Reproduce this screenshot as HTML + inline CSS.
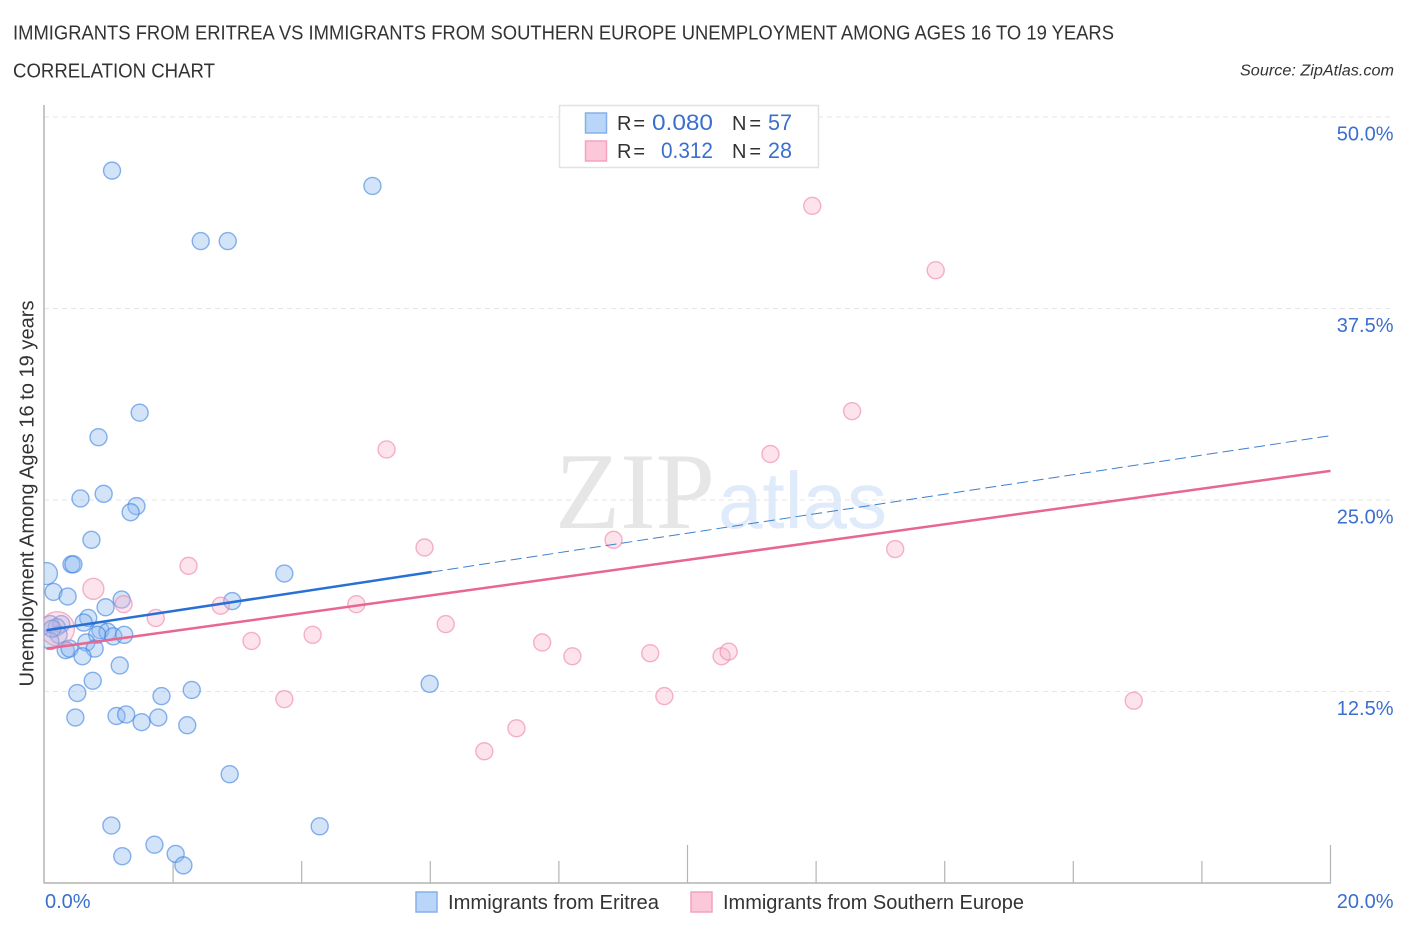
<!DOCTYPE html>
<html>
<head>
<meta charset="utf-8">
<style>
html,body{margin:0;padding:0;background:#fff;width:1406px;height:930px;overflow:hidden}
svg{display:block}
text{font-family:"Liberation Sans",sans-serif}
</style>
</head>
<body>
<svg id="chart" width="1406" height="930" viewBox="0 0 1406 930" xmlns="http://www.w3.org/2000/svg">
  <rect width="1406" height="930" fill="#fff"/>
  <text x="13" y="39.5" font-size="20" fill="#333" textLength="1101" lengthAdjust="spacingAndGlyphs">IMMIGRANTS FROM ERITREA VS IMMIGRANTS FROM SOUTHERN EUROPE UNEMPLOYMENT AMONG AGES 16 TO 19 YEARS</text>
  <text x="13" y="77.5" font-size="20" fill="#333" textLength="202" lengthAdjust="spacingAndGlyphs">CORRELATION CHART</text>
  <text x="1394" y="75.5" font-size="15.5" font-style="italic" fill="#333" text-anchor="end" textLength="154" lengthAdjust="spacingAndGlyphs">Source: ZipAtlas.com</text>

  <g>
    <text x="555" y="528" font-size="109" fill="#e6e6e6" textLength="160" lengthAdjust="spacingAndGlyphs" style="font-family:'Liberation Serif',serif">ZIP</text>
    <text x="718" y="528" font-size="80" fill="#dfeafa" textLength="169" lengthAdjust="spacingAndGlyphs" style="font-family:'Liberation Sans',sans-serif">atlas</text>
  </g>

  <g id="grid"></g>
  <g id="axes"></g>
  <defs>
    <clipPath id="plot-clip"><rect x="44" y="100" width="1300" height="783"/></clipPath>
  </defs>
  <g id="points-blue" clip-path="url(#plot-clip)"></g>
  <g id="points-pink" clip-path="url(#plot-clip)"></g>
  <g id="lines"></g>
  <g id="labels"></g>

  <text transform="translate(33.5,493.5) rotate(-90)" font-size="20" fill="#333" text-anchor="middle" textLength="386" lengthAdjust="spacingAndGlyphs">Unemployment Among Ages 16 to 19 years</text>

  <g>
    <rect x="559.5" y="105.5" width="259" height="62" fill="#fff" stroke="#e2e2e2" stroke-width="1.5"/>
    <rect x="585.5" y="113" width="21" height="20" fill="#b9d5f8" stroke="#86b0ea" stroke-width="1.5"/>
    <rect x="585.5" y="141" width="21" height="20" fill="#fcc8d9" stroke="#f3a3bd" stroke-width="1.5"/>
    <text x="617" y="130" font-size="20" fill="#333" textLength="28" lengthAdjust="spacing">R =</text>
    <text x="652" y="130" font-size="22" fill="#3a6fcf" textLength="61" lengthAdjust="spacingAndGlyphs">0.080</text>
    <text x="732" y="130" font-size="20" fill="#333" textLength="29" lengthAdjust="spacing">N =</text>
    <text x="768" y="130" font-size="22" fill="#3a6fcf" textLength="24" lengthAdjust="spacingAndGlyphs">57</text>
    <text x="617" y="158" font-size="20" fill="#333" textLength="28" lengthAdjust="spacing">R =</text>
    <text x="661" y="158" font-size="22" fill="#3a6fcf" textLength="52" lengthAdjust="spacingAndGlyphs">0.312</text>
    <text x="732" y="158" font-size="20" fill="#333" textLength="29" lengthAdjust="spacing">N =</text>
    <text x="768" y="158" font-size="22" fill="#3a6fcf" textLength="24" lengthAdjust="spacingAndGlyphs">28</text>
  </g>

  <g>
    <rect x="416" y="892" width="21" height="20" fill="#b9d5f8" stroke="#86b0ea" stroke-width="1.5"/>
    <text x="448" y="909" font-size="20" fill="#333" textLength="211" lengthAdjust="spacingAndGlyphs">Immigrants from Eritrea</text>
    <rect x="691" y="892" width="21" height="20" fill="#fcc8d9" stroke="#f3a3bd" stroke-width="1.5"/>
    <text x="723" y="909" font-size="20" fill="#333" textLength="301" lengthAdjust="spacingAndGlyphs">Immigrants from Southern Europe</text>
  </g>
</svg>
<script>
var yTickValues = [12.5, 25, 37.5, 50];
var yTickLabels = ["12.5%", "25.0%", "37.5%", "50.0%"];
var xTickValues = [0, 2, 4, 6, 8, 10, 12, 14, 16, 18, 20];
var xMajorTicks = [10, 20];
var xEndLabels = ["0.0%", "20.0%"];

var eritreaX = [1.05,5.10,2.43,2.85,1.48,0.84,0.92,0.56,1.43,1.34,0.73,0.42,0.45,0.03,3.73,0.14,0.36,1.20,2.92,0.95,0.68,0.61,0.09,0.26,0.19,0.22,0.87,0.98,0.82,1.07,1.24,0.65,0.78,0.33,0.39,0.09,0.59,1.17,0.75,5.99,0.51,1.82,2.29,0.48,1.12,1.27,1.51,1.77,2.22,2.88,1.04,4.28,1.71,1.21,2.04,2.16,0.12];
var eritreaY = [46.5,45.5,41.9,41.9,30.7,29.1,25.4,25.1,24.6,24.2,22.4,20.8,20.8,20.2,20.2,19.0,18.7,18.5,18.4,18.0,17.3,17.0,16.9,16.9,16.7,16.2,16.5,16.4,16.2,16.1,16.2,15.7,15.3,15.2,15.3,15.8,14.8,14.2,13.2,13.0,12.4,12.2,12.6,10.8,10.9,11.0,10.5,10.8,10.3,7.1,3.75,3.7,2.5,1.75,1.9,1.15,16.6];
var eritreaR = [8.5,8.5,8.5,8.5,8.5,8.5,8.5,8.5,8.5,8.5,8.5,8.5,8.5,11,8.5,8.5,8.5,8.5,8.5,8.5,8.5,8.5,8.5,8.5,8.5,8.5,8.5,8.5,8.5,8.5,8.5,8.5,8.5,8.5,8.5,8.5,8.5,8.5,8.5,8.5,8.5,8.5,8.5,8.5,8.5,8.5,8.5,8.5,8.5,8.5,8.5,8.5,8.5,8.5,8.5,8.5,8.5];

var europeX = [11.94,13.86,12.56,5.32,11.29,5.91,8.85,2.24,13.23,0.76,1.23,2.74,4.85,1.73,6.24,0.20,3.22,4.17,7.74,8.21,9.42,10.53,10.64,3.73,9.64,16.94,7.34,6.84];
var europeY = [44.2,40.0,30.8,28.3,28.0,21.9,22.4,20.7,21.8,19.2,18.2,18.1,18.2,17.3,16.9,16.6,15.8,16.2,15.7,14.8,15.0,14.8,15.1,12.0,12.2,11.9,10.1,8.6];
var europeR = [8.5,8.5,8.5,8.5,8.5,8.5,8.5,8.5,8.5,10.5,8.5,8.5,8.5,8.5,8.5,17,8.5,8.5,8.5,8.5,8.5,8.5,8.5,8.5,8.5,8.5,8.5,8.5];

var eritreaTrendX = [0.03, 6.02];
var eritreaTrendY = [16.5, 20.3];
var eritreaDashX = [6.02, 20];
var eritreaDashY = [20.3, 29.2];
var europeTrendX = [0.03, 20];
var europeTrendY = [15.3, 26.9];

var NS = 'http://www.w3.org/2000/svg';
function xScale(v){ return 44.5 + v * 64.3; }
function yScale(v){ return 883 - v * 15.32; }
function make(tag, attrs, parent, text){
  var el = document.createElementNS(NS, tag);
  for (var k in attrs) el.setAttribute(k, attrs[k]);
  if (text !== undefined) el.textContent = text;
  document.getElementById(parent).appendChild(el);
  return el;
}

yTickValues.forEach(function(v, i){
  var g = make('line', {x1:44, x2:1393, y1:yScale(v), y2:yScale(v), stroke:'#e6e6e6', 'stroke-width':1, 'stroke-dasharray':'5 4'}, 'grid');
  
  
  var t = make('text', {x:1393.5, y:yScale(v)+23.5, 'font-size':20, fill:'#3a6fcf', 'text-anchor':'end'}, 'labels', yTickLabels[i]);
  
  
});

var yAxis = make('line', {x1:44, x2:44, y1:105, y2:883.5, stroke:'#b4b4b4', 'stroke-width':1.5}, 'axes');


var xAxis = make('line', {x1:44, x2:1331, y1:883, y2:883, stroke:'#b4b4b4', 'stroke-width':1.5}, 'axes');



xTickValues.forEach(function(v){
  if (v === 0) return;
  var top = xMajorTicks.indexOf(v) >= 0 ? 845 : 861;
  var tick = make('line', {x1:xScale(v), x2:xScale(v), y1:top, y2:883, stroke:'#b4b4b4', 'stroke-width':1.2}, 'axes');
  
  
});

var xStart = make('text', {x:45, y:908, 'font-size':20, fill:'#3a6fcf'}, 'labels', xEndLabels[0]);


var xEnd = make('text', {x:1393.5, y:908, 'font-size':20, fill:'#3a6fcf', 'text-anchor':'end'}, 'labels', xEndLabels[1]);



eritreaX.forEach(function(v, i){
  var c = make('circle', {cx:xScale(v), cy:yScale(eritreaY[i]), r:eritreaR[i], fill:'rgba(140,185,240,0.38)', stroke:'rgba(60,130,225,0.6)', 'stroke-width':1.4}, 'points-blue');
  
  
});
europeX.forEach(function(v, i){
  var c = make('circle', {cx:xScale(v), cy:yScale(europeY[i]), r:europeR[i], fill:'rgba(250,175,200,0.34)', stroke:'rgba(238,130,165,0.6)', 'stroke-width':1.4}, 'points-pink');
  
  
});

var lineDash = make('line', {x1:xScale(eritreaDashX[0]), y1:yScale(eritreaDashY[0]), x2:xScale(eritreaDashX[1]), y2:yScale(eritreaDashY[1]), stroke:'#3f7fd0', 'stroke-width':1, 'stroke-dasharray':'11 5'}, 'lines');


var lineEurope = make('line', {x1:xScale(europeTrendX[0]), y1:yScale(europeTrendY[0]), x2:xScale(europeTrendX[1]), y2:yScale(europeTrendY[1]), stroke:'#e8668f', 'stroke-width':2.5}, 'lines');


var lineBlue = make('line', {x1:xScale(eritreaTrendX[0]), y1:yScale(eritreaTrendY[0]), x2:xScale(eritreaTrendX[1]), y2:yScale(eritreaTrendY[1]), stroke:'#2970d6', 'stroke-width':2.5}, 'lines');


</script>
</body>
</html>
